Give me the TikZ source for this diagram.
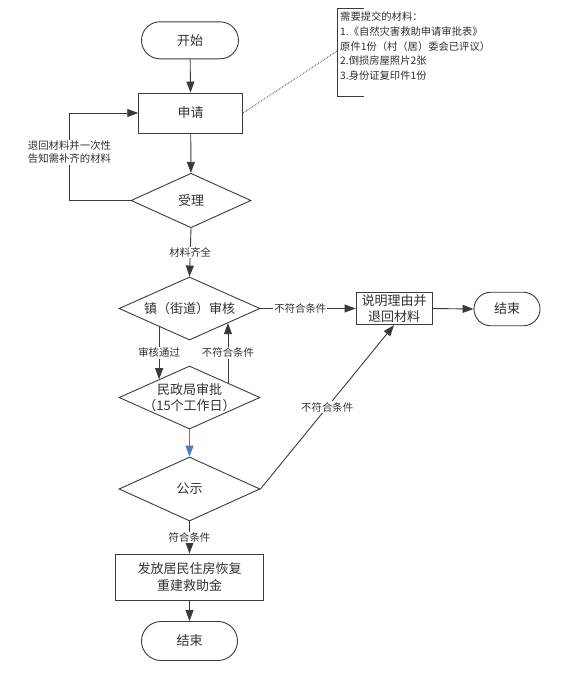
\documentclass[tikz,border=0pt]{standalone}
\usepackage{fontspec}
\setmainfont{Noto Sans CJK SC}
\usetikzlibrary{shapes.geometric,arrows.meta,calc}
\definecolor{lc}{HTML}{3A3A3A}
\definecolor{txt}{HTML}{303030}
\definecolor{bl}{HTML}{4A7CC4}
\begin{document}
\begin{tikzpicture}[x=1pt,y=-1pt,
  base/.style={draw=lc, line width=0.9pt, text=txt, font=\fontsize{13}{16.5}\selectfont, align=center, inner sep=0pt},
  term/.style={base, rectangle},
  proc/.style={base, rectangle},
  dia/.style={base, diamond},
  dtext/.style={text=txt, font=\fontsize{13}{16.5}\selectfont, align=center, inner sep=0pt},
  lbl/.style={fill=white, text=txt, font=\fontsize{10.4}{13.3}\selectfont, inner sep=1pt, align=center},
  arr/.style={draw=lc, line width=0.9pt, -{Triangle[length=11pt,width=8pt]}},
  notefont/.style={text=txt, font=\fontsize{10.3}{14.6}\selectfont, align=left, inner sep=0pt}
]
\useasboundingbox (0,0) rectangle (571,673);

% nodes
\node[term, minimum width=97pt, minimum height=37pt, rounded corners=18.5pt] (start) at (190,40.3) {开始};
\node[proc, minimum width=104pt, minimum height=40pt] (apply) at (190.7,113) {申请};
\node[dia, minimum width=120pt, minimum height=54.5pt, label={[dtext]center:受理}] (accept) at (191,200.5) {};
\node[dia, minimum width=141pt, minimum height=63pt, label={[dtext]center:镇（街道）审核}] (town) at (189.5,308.5) {};
\node[proc, minimum width=76pt, minimum height=32.4pt] (explain) at (394,308.5) {说明理由并\\退回材料};
\node[term, minimum width=66pt, minimum height=33.5pt, rounded corners=16.75pt] (end1) at (507,309) {结束};
\node[dia, minimum width=141pt, minimum height=63pt, label={[dtext]center:{民政局审批\\（15个工作日）}}] (civil) at (189.5,397.5) {};
\node[dia, minimum width=141pt, minimum height=64pt, label={[dtext]center:公示}] (pub) at (189.5,489) {};
\node[proc, minimum width=148pt, minimum height=46pt] (grant) at (189.5,577) {发放居民住房恢复\\重建救助金};
\node[term, minimum width=96pt, minimum height=39pt, rounded corners=19.5pt] (end2) at (189.5,641) {结束};

% annotation
\node[notefont, anchor=north west] (note) at (340,12) {需要提交的材料：\\1.《自然灾害救助申请审批表》\\原件1份（村（居）委会已评议）\\2.倒损房屋照片2张\\3.身份证复印件1份};
\draw[lc, line width=0.9pt] (364,8) -- (337,8) -- (337,96.5) -- (364,96.5);
\coordinate (brk) at (337,51);
\draw[lc, densely dotted, line width=0.8pt] (apply.east) -- (brk);

% connectors
\draw[arr] (start) -- (apply);
\draw[arr] (apply) -- (accept);
\coordinate (lp1) at (69.5,200.5);
\coordinate (lp2) at (69.5,113);
\draw[arr] (accept.west) -- (lp1) -- node[lbl, pos=0.55]{退回材料并一次性\\告知需补齐的材料} (lp2) -- (apply.west);
\draw[arr] (accept.south) -- node[lbl]{材料齐全} (town.north);
\draw[arr] (town.east) -- node[lbl, pos=0.42]{不符合条件} (explain.west);
\draw[arr] (explain.east) -- (end1.west);
\draw[arr] ($(town.west)!0.572!(town.south)$) -- node[lbl]{审核通过} ($(civil.west)!0.572!(civil.north)$);
\draw[arr] ($(civil.east)!0.458!(civil.north)$) -- node[lbl]{不符合条件} ($(town.east)!0.458!(town.south)$);
\draw[arr, draw=bl, fill=bl] (civil.south) -- (pub.north);
\draw[arr] (pub.east) -- node[lbl]{不符合条件} (explain.south);
\draw[arr] (pub.south) -- node[lbl]{符合条件} (grant.north);
\draw[arr] (grant.south) -- (end2.north);
\end{tikzpicture}
\end{document}
